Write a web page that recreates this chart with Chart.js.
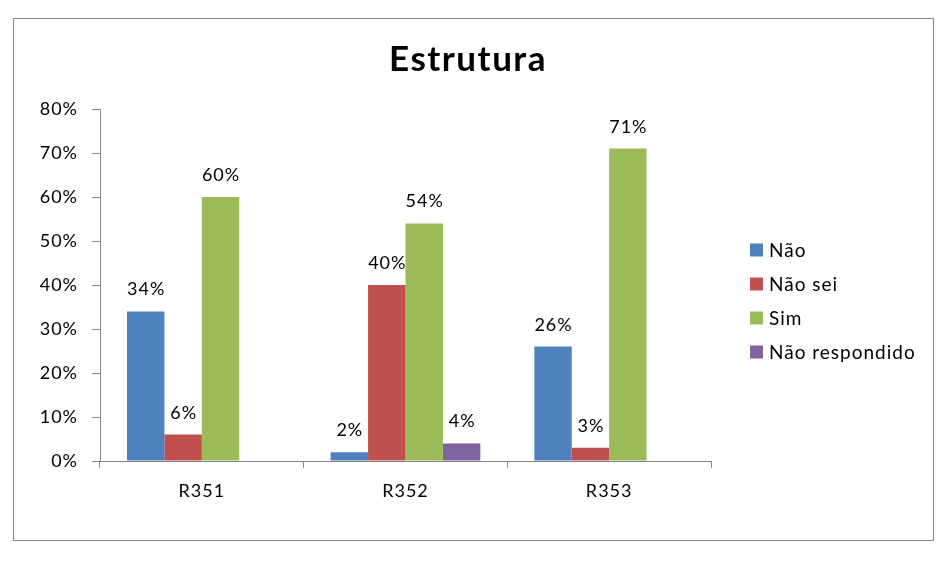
<!DOCTYPE html>
<html>
<head>
<meta charset="utf-8">
<script src="https://cdn.jsdelivr.net/npm/chart.js@4.4.1/dist/chart.umd.min.js"></script>
<style>
  html, body { margin: 0; padding: 0; background: #fff; }
  #wrap { position: relative; width: 948px; height: 563px; }
</style>
</head>
<body>
<div id="wrap"><canvas id="c" width="948" height="563"></canvas></div>
<script>
const chartTitle = "Estrutura";
const categories = ["R351", "R352", "R353"];
const seriesNames = ["Não", "Não sei", "Sim", "Não respondido"];
const naoValues = [34, 2, 26];
const naoSeiValues = [6, 40, 3];
const simValues = [60, 54, 71];
const naoRespondidoValues = [null, 4, null];
const yTicks = [0, 10, 20, 30, 40, 50, 60, 70, 80];
const colors = ["#4F81BD", "#C0504D", "#9BBB59", "#8064A2"];

const FONT = "Lato, 'Open Sans', sans-serif";
const AXIS = "#868686";

const extrasPlugin = {
  id: "extras",
  beforeDraw(chart) {
    chart.ctx.letterSpacing = "1px";
  },
  afterDraw(chart) {
    const ctx = chart.ctx;
    ctx.save();
    // outer border
    ctx.strokeStyle = AXIS;
    ctx.lineWidth = 1;
    ctx.strokeRect(13.5, 18.5, 920, 522);
    // title
    ctx.fillStyle = "#000";
    ctx.letterSpacing = "1.5px";
    ctx.font = "bold 35px " + FONT;
    ctx.textAlign = "center";
    ctx.textBaseline = "alphabetic";
    ctx.fillText(chartTitle, 468, 71);
    // data labels
    ctx.letterSpacing = "1px";
    ctx.font = "18px " + FONT;
    chart.data.datasets.forEach((ds, di) => {
      const meta = chart.getDatasetMeta(di);
      meta.data.forEach((bar, i) => {
        const v = ds.data[i];
        if (v === null || v === undefined) return;
        ctx.fillText(v + "%", bar.x + 0.5, bar.y - 16);
      });
    });
    // legend
    ctx.font = "19px " + FONT;
    ctx.textAlign = "left";
    ctx.textBaseline = "middle";
    chart.data.datasets.forEach((ds, di) => {
      const cy = 250 + di * 34;
      ctx.fillStyle = ds.backgroundColor;
      ctx.fillRect(750, cy - 6.5, 13, 13);
      ctx.fillStyle = "#000";
      ctx.fillText(ds.label, 769, cy + 1);
    });
    ctx.restore();
  }
};

const datasets = [naoValues, naoSeiValues, simValues, naoRespondidoValues].map((d, i) => ({
  label: seriesNames[i],
  data: d,
  backgroundColor: colors[i],
  borderWidth: 0,
  categoryPercentage: 0.735,
  barPercentage: 1.0
}));

new Chart(document.getElementById("c"), {
  type: "bar",
  data: { labels: categories, datasets },
  options: {
    responsive: false,
    animation: false,
    layout: { padding: { top: 109, right: 237, left: 0, bottom: 0 } },
    plugins: { legend: { display: false }, title: { display: false }, tooltip: { enabled: false } },
    scales: {
      x: {
        grid: { display: true, drawOnChartArea: false, offset: true, tickLength: 7, color: AXIS },
        border: { color: AXIS, width: 1 },
        ticks: { color: "#000", font: { family: FONT, size: 18 }, padding: 12, maxRotation: 0 },
        afterFit(s) { s.height = 102; }
      },
      y: {
        min: 0, max: 80,
        afterBuildTicks(s) { s.ticks = yTicks.map(v => ({ value: v })); },
        grid: { display: true, drawOnChartArea: false, tickLength: 8, color: AXIS },
        border: { color: AXIS, width: 1 },
        ticks: { color: "#000", font: { family: FONT, size: 18 }, padding: 14, callback: v => v + "%" },
        afterFit(s) { s.width = 100; }
      }
    }
  },
  plugins: [extrasPlugin]
});
</script>
</body>
</html>
